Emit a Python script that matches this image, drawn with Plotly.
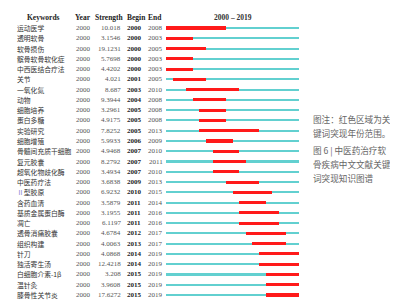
import plotly.graph_objects as go

keywords = ["运动医学", "透明软骨", "软骨损伤", "髌骨软骨软化症", "中西医结合疗法", "关节",
            "一氧化氮", "动物", "细胞培养", "蛋白多糖", "实验研究", "细胞增殖",
            "骨髓间充质干细胞", "复元胶囊", "超氧化物歧化酶", "中医药疗法",
            "<span style='color:#8a7fd0'>Ⅱ</span>型胶原", "含药血清", "基质金属蛋白酶",
            "凋亡", "透骨消痛胶囊", "组织构建", "针刀", "独活寄生汤", "白细胞介素-1β",
            "温针灸", "膝骨性关节炎"]
first_year = ["2000", "2000", "2000", "2000", "2000", "2000", "2000", "2000", "2000",
              "2000", "2000", "2000", "2000", "2000", "2000", "2000", "2000", "2000",
              "2000", "2000", "2000", "2000", "2000", "2000", "2000", "2000", "2000"]
strengths = ["10.018", "3.1546", "19.1231", "5.7698", "4.4202", "4.021", "8.687", "9.3944",
             "3.2961", "4.9175", "7.8252", "5.9933", "4.9468", "8.2792", "3.4934", "3.6838",
             "6.9232", "3.5879", "3.1955", "6.1197", "4.6784", "4.0063", "4.0868", "12.4218",
             "3.208", "3.9608", "17.6272"]
begins = [2000, 2000, 2000, 2000, 2000, 2001, 2003, 2004, 2005, 2005, 2005, 2006, 2007,
          2007, 2007, 2009, 2010, 2011, 2011, 2011, 2012, 2013, 2014, 2014, 2015, 2015, 2015]
ends = [2008, 2003, 2005, 2003, 2003, 2005, 2010, 2008, 2008, 2008, 2013, 2009, 2010,
        2011, 2010, 2013, 2015, 2014, 2016, 2016, 2017, 2017, 2019, 2019, 2019, 2019, 2019]
range_start, range_end = 2000, 2019
headers = ["Keywords", "Year", "Strength", "Begin", "End"]
caption_lines = ["图注：红色区域为关", "键词突现年份范围。", "图 6 | 中医药治疗软",
                 "骨疾病中文文献关键", "词突现知识图谱"]

W, H = 398, 300
n = len(keywords)
rows = list(range(1, n + 1))

CYAN = "#62d0d0"
RED = "#ff1a1a"

fig = go.Figure()
fig.add_trace(go.Bar(
    y=rows, x=[range_end + 1 - range_start] * n, base=[range_start] * n,
    orientation="h", width=0.2, marker=dict(color=CYAN, line=dict(width=0)),
    hoverinfo="skip", showlegend=False))
fig.add_trace(go.Bar(
    y=rows, x=[e + 1 - b for b, e in zip(begins, ends)], base=begins,
    orientation="h", width=0.3, marker=dict(color=RED, line=dict(width=0)),
    hoverinfo="skip", showlegend=False))

serif = "Liberation Serif, Times New Roman, serif"
cjk = "Noto Sans CJK SC"
ann = []
px = lambda v: v / W

# header
hdr_x = [(35, "center"), (75, "center"), (101, "center"), (128, "center"), (147, "center")]
for (xp, al), t in zip(hdr_x, headers):
    ann.append(dict(x=px(xp), y=0, xref="paper", yref="y", text=f"<b>{t}</b>",
                    xanchor=al, yanchor="middle", showarrow=False,
                    font=dict(family=serif, size=7.5, color="#222")))
ann.append(dict(x=(range_start + range_end + 1) / 2, y=0, xref="x", yref="y",
                text=f"<b>{range_start} – {range_end}</b>", xanchor="center", yanchor="middle",
                showarrow=False, font=dict(family=serif, size=7.5, color="#333")))

for i in range(n):
    r = rows[i]
    ann.append(dict(x=px(7), y=r, xref="paper", yref="y", text=keywords[i],
                    xanchor="left", yanchor="middle", showarrow=False,
                    font=dict(family=cjk, size=6.8, color="#333")))
    ann.append(dict(x=px(75), y=r, xref="paper", yref="y", text=first_year[i],
                    xanchor="center", yanchor="middle", showarrow=False,
                    font=dict(family=serif, size=7, color="#555")))
    ann.append(dict(x=px(115), y=r, xref="paper", yref="y", text=strengths[i],
                    xanchor="right", yanchor="middle", showarrow=False,
                    font=dict(family=serif, size=7, color="#555")))
    ann.append(dict(x=px(126), y=r, xref="paper", yref="y", text=f"<b>{begins[i]}</b>",
                    xanchor="center", yanchor="middle", showarrow=False,
                    font=dict(family=serif, size=7, color="#222")))
    ann.append(dict(x=px(147.5), y=r, xref="paper", yref="y", text=str(ends[i]),
                    xanchor="center", yanchor="middle", showarrow=False,
                    font=dict(family=serif, size=7, color="#555")))

cap_y = [111, 125, 142, 156, 170]
for t, yp in zip(caption_lines, cap_y):
    ann.append(dict(x=px(303), y=1 - yp / H, xref="paper", yref="paper", text=t,
                    xanchor="left", yanchor="middle", showarrow=False,
                    font=dict(family=cjk, size=8.6, color="#666")))

row_px0, row_step = 20, 10.27
y_top = 1 - row_px0 / row_step
y_bot = 1 + (H - row_px0) / row_step

fig.update_layout(
    width=W, height=H, margin=dict(l=0, r=0, t=0, b=0),
    paper_bgcolor="white", plot_bgcolor="white",
    barmode="overlay", bargap=0,
    xaxis=dict(domain=[158 / W, 291 / W], range=[range_start, range_end + 1],
               visible=False, fixedrange=True),
    yaxis=dict(domain=[0, 1], range=[y_bot, y_top], visible=False, fixedrange=True),
    annotations=ann,
)

fig.write_html("out.html")
